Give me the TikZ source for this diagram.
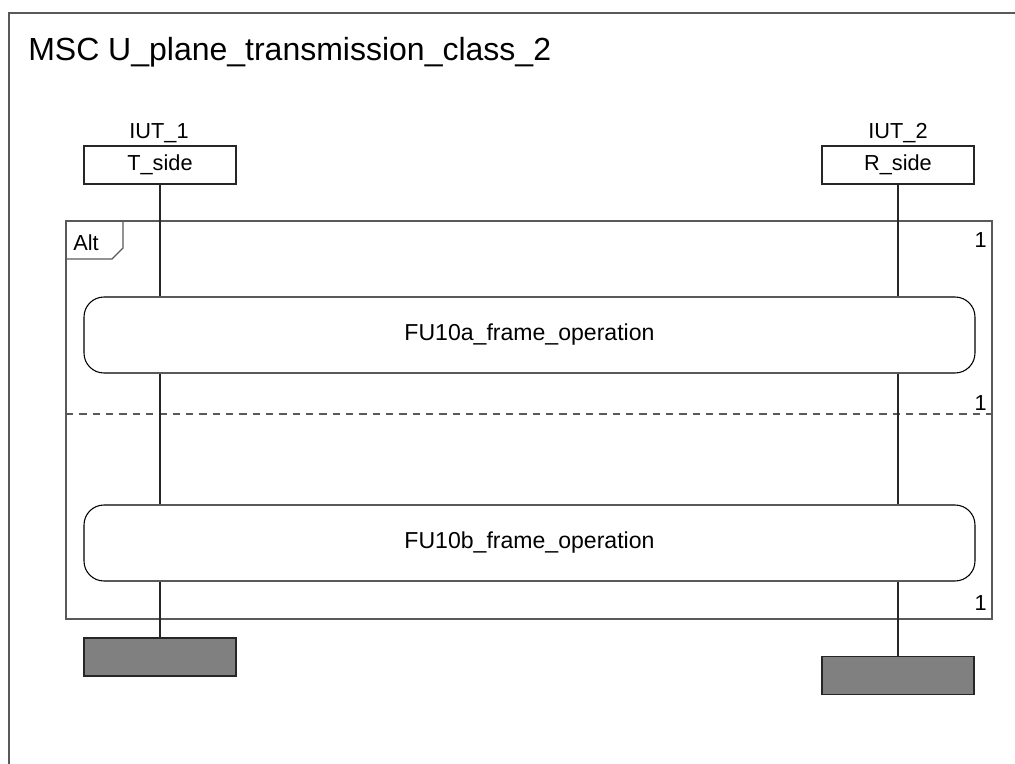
\documentclass[tikz,border=0pt]{standalone}
\usepackage{fontspec}
\setmainfont{Liberation Sans}
\begin{document}
\begin{tikzpicture}[x=0.75pt,y=-0.75pt,
  line/.style={line width=0.8pt, draw=black!85},
  lbl/.style={font=\fontsize{16.3}{19}\selectfont, inner sep=0pt},
  insthead/.style={draw=black!85, line width=0.8pt, minimum width=114pt, minimum height=28.5pt, inner sep=0pt, font=\fontsize{16.3}{19}\selectfont},
  refbox/.style={draw=black, line width=0.8pt, rounded corners=15pt, minimum width=668.25pt, minimum height=57pt, inner sep=0pt, font=\fontsize{17.3}{20}\selectfont},
  endbox/.style={draw=black!85, fill=black!50, line width=0.8pt, minimum width=114pt, minimum height=28.5pt, inner sep=0pt},
  frame/.style={draw=black!65, line width=1pt}]
\useasboundingbox (0,0) rectangle (1015,764);
% outer MSC frame
\draw[draw=black!65, line width=1.4pt] (9,764) -- (9,13) -- (1015,13);
\node[anchor=base west, inner sep=0pt, font=\fontsize{24}{28}\selectfont] (title) at (28,60) {MSC U\_plane\_transmission\_class\_2};
% instance heads
\node[lbl, anchor=base] (iut1) at (159,138) {IUT\_1};
\node[lbl, anchor=base] (iut2) at (898,138) {IUT\_2};
\node[insthead] (th) at (160,165) {T\_side};
\node[insthead] (rh) at (898,165) {R\_side};
% alt frame
\draw[frame] (66,221) rectangle (992,619);
\draw[frame] (66,259) -- (112,259) -- (123,248) -- (123,221);
\node[lbl, anchor=base west] (alt) at (73,250) {Alt};
\draw[frame, dashed, dash pattern=on 5.5pt off 4.5pt] (66,414) -- (992,414);
\node[lbl, anchor=base east] (one1) at (987,247) {1};
\node[lbl, anchor=base east] (one2) at (987,410) {1};
\node[lbl, anchor=base east] (one3) at (987,610) {1};
% references
\node[refbox] (r1) at (529.5,335) {FU10a\_frame\_operation};
\node[refbox] (r2) at (529.5,543) {FU10b\_frame\_operation};
% ends
\node[endbox] (te) at (160,657) {};
\node[endbox] (re) at (898,675.5) {};
% lifelines
\draw[line] (th.south) -- (th.south |- r1.north);
\draw[line] (th.south |- r1.south) -- (th.south |- r2.north);
\draw[line] (th.south |- r2.south) -- (te.north);
\draw[line] (rh.south) -- (rh.south |- r1.north);
\draw[line] (rh.south |- r1.south) -- (rh.south |- r2.north);
\draw[line] (rh.south |- r2.south) -- (re.north);
\end{tikzpicture}
\end{document}
